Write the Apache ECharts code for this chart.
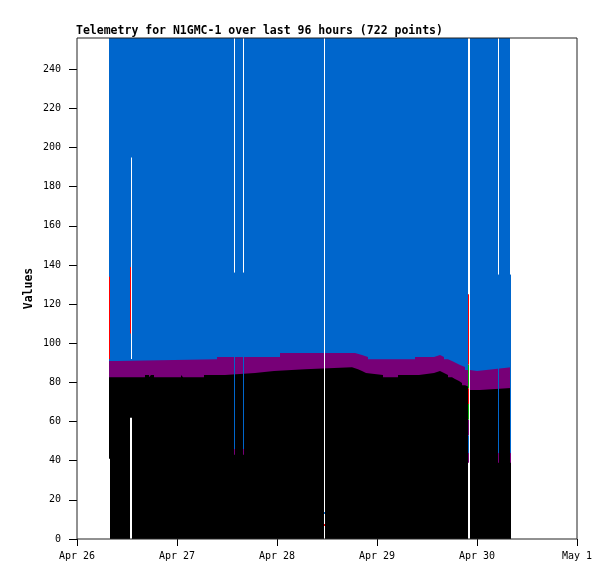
<!DOCTYPE html>
<html>
<head>
<meta charset="utf-8">
<script src="https://cdn.jsdelivr.net/npm/echarts@6/dist/echarts.min.js"></script>
<style>html,body{margin:0;padding:0;background:#fff;}#c{width:615px;height:579px;}</style>
</head>
<body>
<div id="c"></div>
<script>
// x values are hours since Apr 26 00:00
const xTickLabels = ['Apr 26', 'Apr 27', 'Apr 28', 'Apr 29', 'Apr 30', 'May 1'];
const yTickValues = [0, 20, 40, 60, 80, 100, 120, 140, 160, 180, 200, 220, 240];

// channel levels (step: value holds from its hour until the next point)
const blueLevel = [[7.68, 256], [104.16, 256]];
const purpleLevel = [[7.68, 90.9], [9.6, 91.9], [33.6, 93.0], [48.72, 95.0], [66.72, 94.0], [68.4, 93.0], [69.84, 91.9],
  [81.12, 93.0], [85.68, 94.0], [87.12, 93.0], [88.08, 91.9], [89.04, 90.9], [90.0, 89.9], [90.96, 88.9], [91.92, 87.9],
  [93.12, 86.3], [94.32, 85.8], [96.0, 86.8], [99.84, 87.8], [104.16, 87.8]];
const blackLevel = [[7.68, 82.7], [16.32, 83.8], [17.28, 82.7], [17.76, 83.8], [18.48, 82.7], [24.96, 83.8], [25.44, 82.7],
  [30.48, 83.8], [35.52, 84.8], [42.72, 85.8], [47.28, 86.8], [54.72, 87.8], [66.0, 86.8], [67.44, 85.8], [68.4, 84.8],
  [69.36, 83.8], [73.44, 82.7], [77.04, 83.8], [82.08, 84.8], [85.68, 85.8], [87.12, 84.8], [88.08, 83.8], [89.04, 82.7],
  [90.0, 81.7], [90.72, 80.7], [91.68, 79.7], [92.4, 78.6], [93.12, 77.6], [94.32, 76.1], [96.72, 77.1], [104.16, 77.1]];

// missing-data gaps: [hourStart, hourEnd, low, high]
const gaps = [[7.68, 7.92, 0, 41], [12.96, 13.2, 92, 195], [12.72, 13.2, 0, 62], [37.68, 37.92, 136, 256],
  [39.84, 40.08, 136, 256], [59.28, 59.52, 0, 256], [93.84, 94.32, 0, 256], [101.04, 101.28, 135, 256], [103.92, 104.16, 135, 256]];
// short channel spikes: [hourStart, hourEnd, low, high]
const redSpikes = [[7.68, 7.92, 92, 134], [12.72, 12.96, 105, 139], [59.28, 59.52, 6.7, 7.7], [93.84, 94.08, 89, 125], [93.84, 94.08, 69, 77]];
const greenSpikes = [[93.84, 94.08, 77, 89], [93.84, 94.08, 61, 69]];
const blueSpikes = [[37.68, 37.92, 46, 136], [39.84, 40.08, 46, 136], [59.28, 59.52, 12.8, 13.8], [93.84, 94.08, 44, 53],
  [101.04, 101.28, 44, 135], [103.92, 104.16, 44, 135]];
const purpleSpikes = [[37.68, 37.92, 43, 46], [39.84, 40.08, 43, 46], [93.84, 94.08, 53, 61], [93.84, 94.08, 39, 44],
  [101.04, 101.28, 39, 44], [103.92, 104.16, 39, 44]];

const C_BLUE = '#0066cc', C_PURPLE = '#770077', C_BLACK = '#000000', C_RED = '#ff0000', C_GREEN = '#00bb00';
const MONO = '"DejaVu Sans Mono", "Liberation Mono", monospace';

function areaSeries(data, color, z) {
  return {
    type: 'line', data: data, step: 'end', showSymbol: false, symbol: 'none', z: z,
    lineStyle: { width: 0, color: color }, itemStyle: { color: color },
    areaStyle: { color: color, opacity: 1, origin: 'start' },
    silent: true, animation: false
  };
}
function rectSeries(data, color, z) {
  return {
    type: 'custom', data: data, silent: true, animation: false, z: z,
    encode: { x: [0, 1], y: [2, 3] },
    renderItem: function (params, api) {
      const a = api.coord([api.value(0), api.value(2)]);
      const b = api.coord([api.value(1), api.value(3)]);
      return { type: 'rect', shape: { x: a[0], y: b[1], width: b[0] - a[0], height: a[1] - b[1] }, style: { fill: color } };
    }
  };
}

const chart = echarts.init(document.getElementById('c'), null, { renderer: 'canvas' });
chart.setOption({
  animation: false,
  backgroundColor: '#ffffff',
  title: {
    text: 'Telemetry for N1GMC-1 over last 96 hours (722 points)',
    left: 76, top: 25, padding: 0,
    textStyle: { fontFamily: MONO, fontSize: 11.5, fontWeight: 'bold', color: '#000' }
  },
  grid: { left: 77, top: 38, width: 500, height: 501, show: true, borderColor: '#222', borderWidth: 1, backgroundColor: 'transparent', z: 20 },
  xAxis: {
    type: 'value', min: 0, max: 120, interval: 24,
    axisLine: { show: false },
    axisTick: { show: true, length: 7, lineStyle: { color: '#000' } },
    splitLine: { show: false },
    axisLabel: {
      margin: 12, color: '#000', fontFamily: MONO, fontSize: 10,
      formatter: function (v) { return xTickLabels[Math.round(v / 24)] || ''; }
    }
  },
  yAxis: {
    type: 'value', min: 0, max: 256, offset: 7,
    name: 'Values', nameLocation: 'middle', nameGap: 35, nameMoveOverlap: false,
    nameTextStyle: { fontFamily: MONO, fontSize: 11.5, fontWeight: 'bold', color: '#000' },
    axisLine: { show: false },
    axisTick: { show: true, length: 8, customValues: yTickValues, lineStyle: { color: '#000' } },
    splitLine: { show: false },
    axisLabel: { margin: 9, color: '#000', fontFamily: MONO, fontSize: 10, customValues: yTickValues }
  },
  series: [
    areaSeries(blueLevel, C_BLUE, 3),
    areaSeries(purpleLevel, C_PURPLE, 4),
    areaSeries(blackLevel, C_BLACK, 5),
    rectSeries(gaps, '#ffffff', 6),
    rectSeries(blueSpikes, C_BLUE, 7),
    rectSeries(purpleSpikes, C_PURPLE, 8),
    rectSeries(redSpikes, C_RED, 9),
    rectSeries(greenSpikes, C_GREEN, 10)
  ]
});
</script>
</body>
</html>
